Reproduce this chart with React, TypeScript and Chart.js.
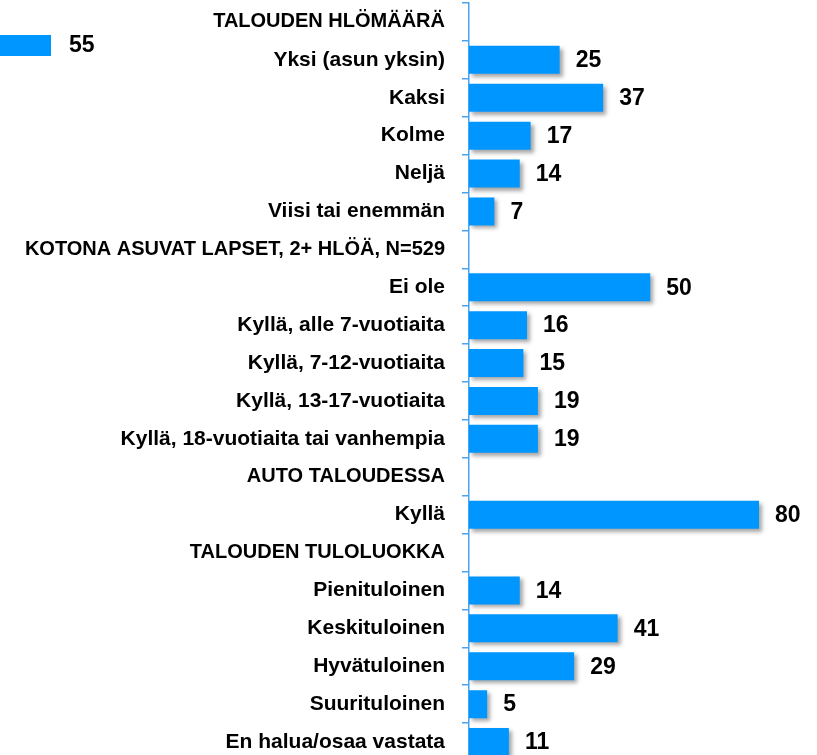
import React, { useEffect, useRef } from "react";
import { Chart, registerables } from "chart.js";

Chart.register(...registerables);

const categories: string[] = [
  "TALOUDEN HLÖMÄÄRÄ",
  "Yksi (asun yksin)",
  "Kaksi",
  "Kolme",
  "Neljä",
  "Viisi tai enemmän",
  "KOTONA ASUVAT LAPSET, 2+ HLÖÄ, N=529",
  "Ei ole",
  "Kyllä, alle 7-vuotiaita",
  "Kyllä, 7-12-vuotiaita",
  "Kyllä, 13-17-vuotiaita",
  "Kyllä, 18-vuotiaita tai vanhempia",
  "AUTO TALOUDESSA",
  "Kyllä",
  "TALOUDEN TULOLUOKKA",
  "Pienituloinen",
  "Keskituloinen",
  "Hyvätuloinen",
  "Suurituloinen",
  "En halua/osaa vastata",
];

const values: (number | null)[] = [
  null, 25, 37, 17, 14, 7,
  null, 50, 16, 15, 19, 19,
  null, 80,
  null, 14, 41, 29, 5, 11,
];

const topLeftValue = 55;

const BAR_COLOR = "#0096ff";
const AXIS_COLOR = "#4aa3f0";
const FONT = "'Liberation Sans', Arial, sans-serif";

export default function App() {
  const ref = useRef<HTMLCanvasElement | null>(null);

  useEffect(() => {
    if (!ref.current) return;
    const shadowPlugin = {
      id: "barShadow",
      afterLayout(chart: any) {
        const y = chart.scales.y;
        if (y) y.left = 0;
      },
      beforeDatasetsDraw(chart: any) {
        const ctx = chart.ctx;
        ctx.save();
        ctx.shadowColor = "rgba(0,0,0,0.35)";
        ctx.shadowBlur = 4;
        ctx.shadowOffsetX = 3;
        ctx.shadowOffsetY = 3;
      },
      afterDatasetsDraw(chart: any) {
        const ctx = chart.ctx;
        ctx.restore();
        const meta = chart.getDatasetMeta(0);
        ctx.save();
        ctx.font = `bold 23px ${FONT}`;
        ctx.fillStyle = "#000";
        ctx.textAlign = "left";
        ctx.textBaseline = "middle";
        meta.data.forEach((bar: any, i: number) => {
          const v = values[i];
          if (v === null || v === undefined) return;
          ctx.fillText(String(v), bar.x + 16, bar.y + 1);
        });
        ctx.restore();
      },
    };

    const chart = new Chart(ref.current, {
      type: "bar",
      data: {
        labels: categories,
        datasets: [
          {
            label: String(topLeftValue),
            data: values,
            backgroundColor: BAR_COLOR,
            borderWidth: 0,
            barPercentage: 0.74,
            categoryPercentage: 1,
          },
        ],
      },
      options: {
        indexAxis: "y",
        responsive: false,
        animation: false,
        layout: { padding: { top: 3, right: 3.6, bottom: 1, left: 0 } },
        plugins: {
          tooltip: { enabled: false },
          legend: {
            display: true,
            position: "left",
            align: "start",
            title: {
              display: true,
              text: " ",
              font: { size: 10 },
              padding: { top: 19, bottom: 0 },
            },
            labels: {
              boxWidth: 51,
              boxHeight: 21,
              padding: 0,
              color: "#000",
              font: { family: FONT, size: 23, weight: "bold" },
              generateLabels: () => [
                {
                  text: " " + topLeftValue,
                  fillStyle: BAR_COLOR,
                  strokeStyle: BAR_COLOR,
                  fontColor: "#000",
                  lineWidth: 0,
                  hidden: false,
                  datasetIndex: 0,
                } as any,
              ],
            },
          },
        },
        scales: {
          x: {
            display: false,
            min: 0,
            max: 95,
          },
          y: {
            afterFit: (scale: any) => {
              const lw = scale.chart.legend ? scale.chart.legend.width : 95;
              scale.width = 469 - lw;
              scale.paddingTop = 0;
              scale.paddingBottom = 0;
            },
            border: { display: true, color: AXIS_COLOR, width: 1.5 },
            grid: {
              display: true,
              drawOnChartArea: false,
              drawTicks: true,
              tickLength: 7,
              lineWidth: 1.5,
              color: AXIS_COLOR,
              offset: true,
            },
            ticks: {
              color: "#000",
              padding: 17,
              autoSkip: false,
              font: (c: any) => ({
                family: FONT,
                size: values[c.index] === null ? 20 : 21,
                weight: "bold",
              }),
            },
          },
        },
      },
      plugins: [shadowPlugin],
    });
    return () => chart.destroy();
  }, []);

  return (
    <div
      style={{
        position: "absolute",
        left: 0,
        top: 0,
        width: 817,
        height: 755,
        overflow: "hidden",
        background: "#fff",
      }}
    >
      <canvas ref={ref} width={817} height={762} style={{ display: "block" }} />
    </div>
  );
}
